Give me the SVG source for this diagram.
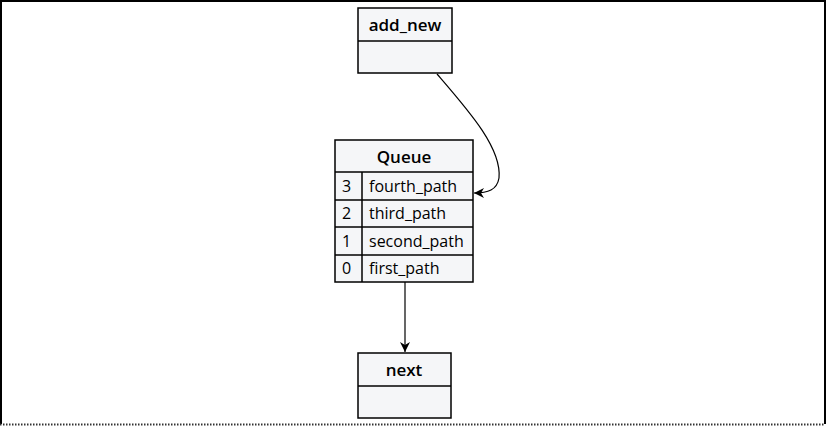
<svg xmlns="http://www.w3.org/2000/svg" width="827" height="426" viewBox="0 0 827 426">
<defs>
<style>
.box{fill:#f5f6f8;stroke:#000;stroke-width:1.5}
.ln{stroke:#000;stroke-width:1.5;fill:none}
.h{font-family:"Open Sans","Noto Sans",sans-serif;font-size:17px;font-weight:600;text-anchor:middle;fill:#000}
.t{font-family:"Open Sans","Noto Sans",sans-serif;font-size:16px;fill:#000}
.c{fill:none;stroke:#000;stroke-width:1.2}
</style>
<marker id="ah" viewBox="0 0 10 10" refX="10" refY="5" markerWidth="10" markerHeight="10" markerUnits="userSpaceOnUse" orient="auto">
<path d="M0,0 L10,5 L0,10 L3,5 Z" fill="#000"/>
</marker>
</defs>
<rect x="0" y="0" width="827" height="426" fill="#fff"/>
<path d="M1,424 V1 H825 V424" fill="none" stroke="#000" stroke-width="2"/>
<line x1="0" y1="424.5" x2="825" y2="424.5" stroke="#333" stroke-width="2" stroke-dasharray="1.5,1.5"/>
<g id="add_new">
<rect class="box" x="358" y="8" width="94" height="65"/>
<line class="ln" x1="358" y1="41" x2="452" y2="41"/>
<text class="h" x="405" y="31">add_new</text>
</g>
<g id="queue">
<rect class="box" x="335" y="140" width="138" height="142"/>
<line class="ln" x1="335" y1="172" x2="473" y2="172"/>
<line class="ln" x1="335" y1="200" x2="473" y2="200"/>
<line class="ln" x1="335" y1="227" x2="473" y2="227"/>
<line class="ln" x1="335" y1="255" x2="473" y2="255"/>
<line class="ln" x1="362" y1="172" x2="362" y2="282"/>
<text class="h" x="404" y="163">Queue</text>
<text class="t" x="342" y="192">3</text>
<text class="t" x="369" y="192">fourth_path</text>
<text class="t" x="342" y="219">2</text>
<text class="t" x="369" y="219">third_path</text>
<text class="t" x="342" y="247">1</text>
<text class="t" x="369" y="247">second_path</text>
<text class="t" x="342" y="274">0</text>
<text class="t" x="369" y="274">first_path</text>
</g>
<g id="next">
<rect class="box" x="358" y="353" width="93" height="65"/>
<line class="ln" x1="358" y1="386" x2="451" y2="386"/>
<text class="h" x="404" y="376">next</text>
</g>
<g id="connectors">
<path class="c" d="M437,74 C468,110 502,148 499,178 C497,190 488,193 474,193" marker-end="url(#ah)"/>
<line class="c" x1="405" y1="282" x2="405" y2="352" marker-end="url(#ah)"/>
</g>
</svg>
